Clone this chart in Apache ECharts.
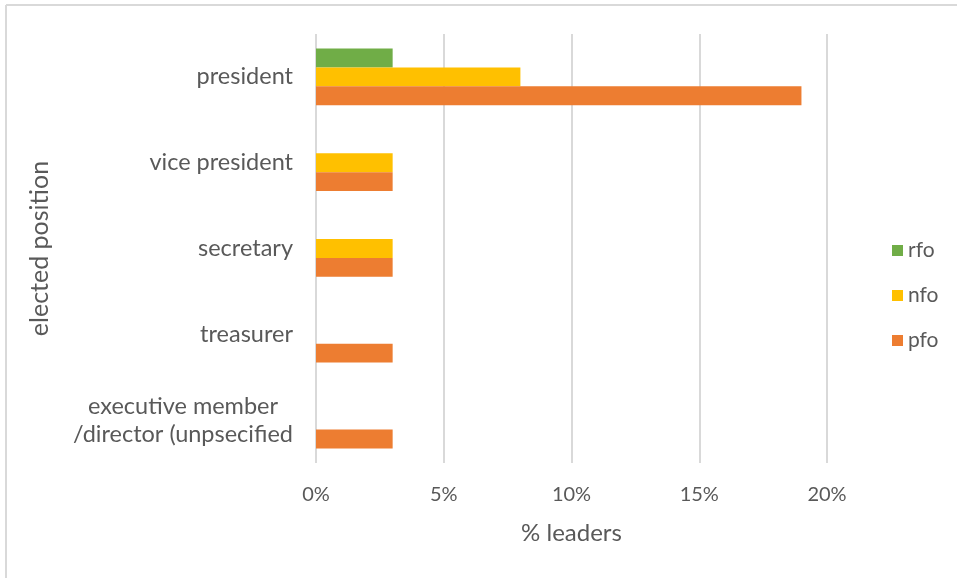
<!DOCTYPE html>
<html>
<head>
<meta charset="utf-8">
<script src="https://cdn.jsdelivr.net/npm/echarts@6/dist/echarts.min.js"></script>
<style>
  html, body { margin: 0; padding: 0; background: #fff; }
  #chart { width: 957px; height: 578px; }
</style>
</head>
<body>
<div id="chart"></div>
<script>
// Elected positions held by leaders, by organisation type (% of leaders)
const positions = [
  'president',
  'vice president',
  'secretary',
  'treasurer',
  'executive member\n/director (unpsecified'
];
const rfo = [3, null, null, null, null];
const nfo = [8, 3, 3, null, null];
const pfo = [19, 3, 3, 3, 3];
const xTicks = [0, 5, 10, 15, 20];

const textColor = '#595959';
const font = 'Lato, "Open Sans", sans-serif';

const chart = echarts.init(document.getElementById('chart'), null, { renderer: 'canvas' });

// Multi-line category labels: each line centred within the label block
const labelStyle = { fontFamily: font, fontSize: 23.5, color: textColor, lineHeight: 28, align: 'center' };

chart.setOption({
  backgroundColor: '#ffffff',
  animation: false,
  textStyle: { fontFamily: font, color: textColor },
  graphic: [
    { type: 'line', shape: { x1: 6, y1: 5, x2: 957, y2: 5 }, style: { stroke: '#d9d9d9', lineWidth: 2 } },
    { type: 'line', shape: { x1: 6, y1: 5, x2: 6, y2: 578 }, style: { stroke: '#d9d9d9', lineWidth: 2 } }
  ],
  grid: { left: 316, right: 130, top: 34, bottom: 115, containLabel: false },
  legend: {
    orient: 'vertical',
    left: 887,
    top: 235,
    itemWidth: 11,
    itemHeight: 11,
    itemGap: 24,
    icon: 'rect',
    textStyle: { fontFamily: font, fontSize: 21, color: textColor },
    data: ['rfo', 'nfo', 'pfo']
  },
  xAxis: {
    type: 'value',
    min: xTicks[0],
    max: xTicks[xTicks.length - 1],
    interval: xTicks[1] - xTicks[0],
    name: '% leaders',
    nameLocation: 'middle',
    nameGap: 58,
    nameTextStyle: { fontFamily: font, fontSize: 24, color: textColor },
    axisLine: { show: false },
    axisTick: { show: false },
    axisLabel: { formatter: '{value}%', fontFamily: font, fontSize: 20, color: textColor, margin: 22 },
    splitLine: { show: true, lineStyle: { color: '#d9d9d9', width: 2 } }
  },
  yAxis: {
    type: 'category',
    inverse: true,
    data: positions,
    name: 'elected position',
    nameLocation: 'middle',
    nameRotate: 90,
    nameGap: 264,
    nameTextStyle: { fontFamily: font, fontSize: 25, color: textColor },
    axisLine: { show: false },
    axisTick: { show: false },
    axisLabel: {
      fontFamily: font, fontSize: 23.5, color: textColor, margin: 23, align: 'right', lineHeight: 28,
      formatter: (v) => v.split('\n').map((line) => '{c|' + line + '}').join('\n'),
      rich: { c: labelStyle }
    },
    splitLine: { show: false }
  },
  series: [
    { name: 'rfo', type: 'bar', data: rfo, itemStyle: { color: '#70ad47' }, barGap: '0%', barCategoryGap: '34%' },
    { name: 'nfo', type: 'bar', data: nfo, itemStyle: { color: '#ffc000' }, barGap: '0%', barCategoryGap: '34%' },
    { name: 'pfo', type: 'bar', data: pfo, itemStyle: { color: '#ed7d31' }, barGap: '0%', barCategoryGap: '34%' }
  ]
});
</script>
</body>
</html>
